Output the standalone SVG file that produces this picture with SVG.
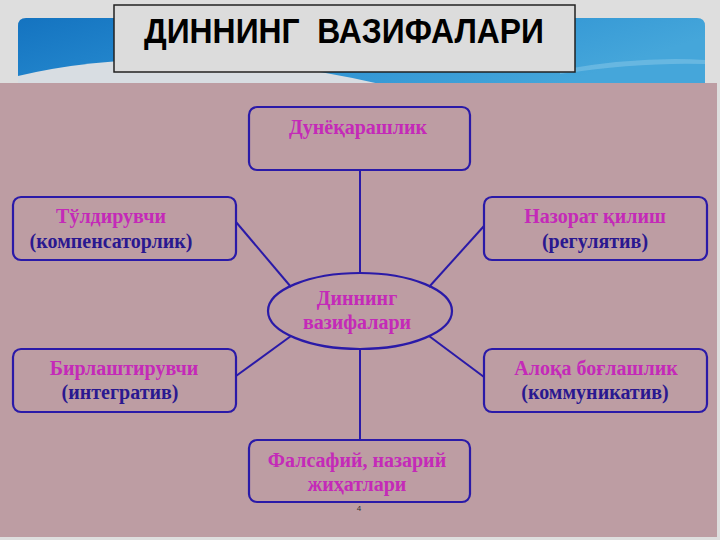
<svg xmlns="http://www.w3.org/2000/svg" width="720" height="540" viewBox="0 0 720 540">
<defs>
<linearGradient id="blue" x1="0" y1="0" x2="1" y2="0.3">
<stop offset="0" stop-color="#1473c0"/>
<stop offset="0.5" stop-color="#2a8fd2"/>
<stop offset="1" stop-color="#45a6da"/>
</linearGradient>
<style>
.box{fill:none;stroke:#2a1aa8;stroke-width:2.2}
.conn{stroke:#2a1aa8;stroke-width:2;fill:none}
.t{font-family:"Liberation Serif","DejaVu Serif",serif;font-size:20px;text-anchor:middle;font-weight:bold}
.m{fill:#c42ab8}
.b{fill:#2a1890}
</style>
</defs>
<rect x="0" y="0" width="720" height="540" fill="#dedede"/>
<path d="M26,18 H697 Q705,18 705,26 V84 H18 V26 Q18,18 26,18 Z" fill="url(#blue)"/>
<path d="M18,76 Q120,52 250,62 Q320,70 380,84 H18 Z" fill="#d8dde2"/>
<path d="M560,70 Q640,56 705,60 V64 Q640,62 560,74 Z" fill="#7ec3e6" opacity="0.6"/>
<rect x="0" y="83" width="717" height="454" fill="#bd9da3"/>
<g id="title">
<rect x="114" y="5" width="461" height="67" fill="#dcdcdc" stroke="#222" stroke-width="1.5"/>
<text x="344" y="43" xml:space="preserve" style="white-space:pre" font-family="'Liberation Sans','DejaVu Sans',sans-serif" font-size="35" font-weight="bold" text-anchor="middle" textLength="400" lengthAdjust="spacingAndGlyphs" fill="#000">ДИННИНГ  ВАЗИФАЛАРИ</text>
</g>
<g id="connectors">
<line class="conn" x1="360" y1="170" x2="360" y2="273"/>
<line class="conn" x1="360" y1="349" x2="360" y2="440"/>
<line class="conn" x1="236" y1="222" x2="291" y2="287"/>
<line class="conn" x1="484" y1="226" x2="429" y2="287"/>
<line class="conn" x1="236" y1="376" x2="291" y2="336"/>
<line class="conn" x1="484" y1="377" x2="429" y2="336"/>
</g>
<g id="center">
<ellipse cx="360" cy="311" rx="92" ry="38" fill="#bd9da3" class="box"/>
<text class="t m" x="357" y="305">Диннинг</text>
<text class="t m" x="357" y="329">вазифалари</text>
</g>
<g id="n-top">
<rect class="box" x="249" y="107" width="221" height="63" rx="8"/>
<text class="t m" x="358" y="134">Дунёқарашлик</text>
</g>
<g id="n-lefttop">
<rect class="box" x="13" y="197" width="223" height="63" rx="8"/>
<text class="t m" x="111" y="223">Тўлдирувчи</text>
<text class="t b" x="111" y="248">(компенсаторлик)</text>
</g>
<g id="n-righttop">
<rect class="box" x="484" y="197" width="223" height="63" rx="8"/>
<text class="t m" x="595" y="223">Назорат қилиш</text>
<text class="t b" x="595" y="248">(регулятив)</text>
</g>
<g id="n-leftbottom">
<rect class="box" x="13" y="349" width="223" height="63" rx="8"/>
<text class="t m" x="124" y="375">Бирлаштирувчи</text>
<text class="t b" x="120" y="399">(интегратив)</text>
</g>
<g id="n-rightbottom">
<rect class="box" x="484" y="349" width="223" height="63" rx="8"/>
<text class="t m" x="596" y="375">Алоқа боғлашлик</text>
<text class="t b" x="595" y="399">(коммуникатив)</text>
</g>
<g id="n-bottom">
<rect class="box" x="249" y="440" width="221" height="62" rx="8"/>
<text class="t m" x="357" y="467">Фалсафий, назарий</text>
<text class="t m" x="357" y="491">жиҳатлари</text>
</g>
<text x="359" y="511" font-family="'Liberation Sans',sans-serif" font-size="8" fill="#333" text-anchor="middle">4</text>
</svg>
